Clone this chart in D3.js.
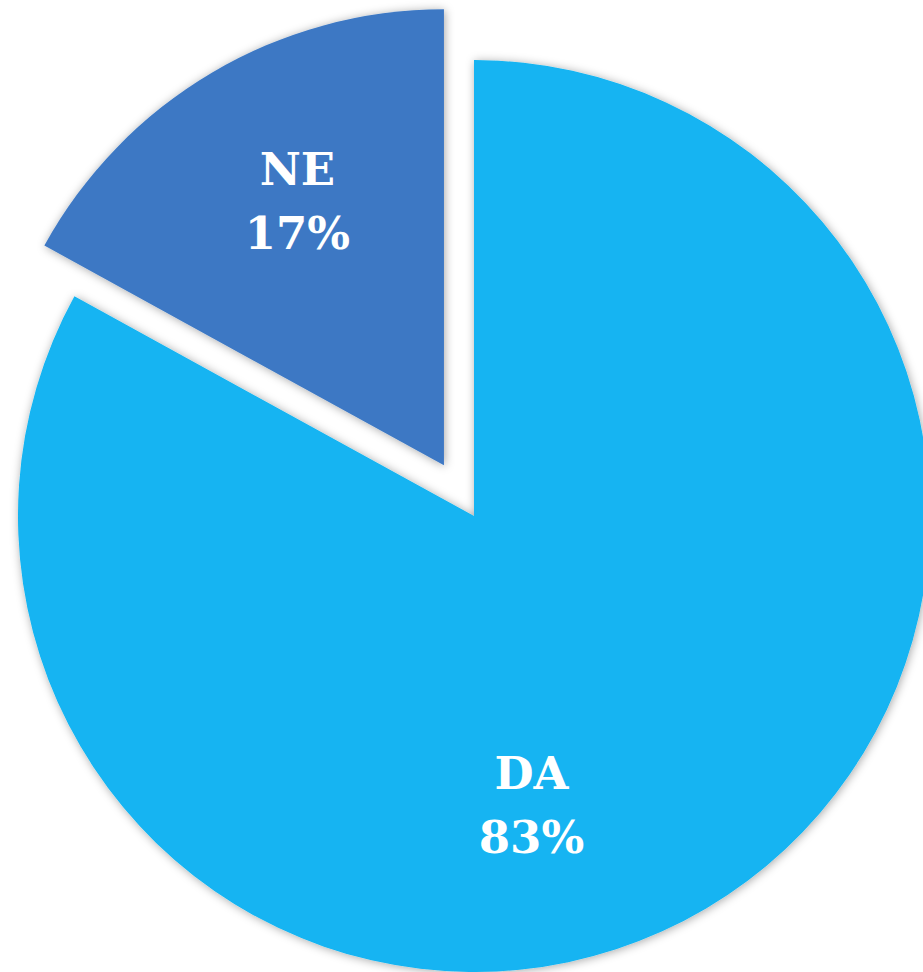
<!DOCTYPE html>
<html>
<head>
<meta charset="utf-8">
<script src="https://cdn.jsdelivr.net/npm/d3@7"></script>
<style>
html,body{margin:0;padding:0;background:#fff;overflow:hidden;}
svg{display:block;}
</style>
</head>
<body>
<svg id="chart" width="923" height="972"></svg>
<script>
const categories = ["DA", "NE"];
const values = [83, 17];
const colors = ["#12B4F2", "#3C78C4"];

const W = 923, H = 972;
const cx = 474, cy = 516, R = 456;
const explode = [0, 59];
const labelR = 0.655 * R;
const labelAngleShift = [19.5 * Math.PI / 180, 1.2 * Math.PI / 180];

const svg = d3.select("#chart");
const defs = svg.append("defs");
const f = defs.append("filter").attr("id", "sh").attr("x", "-20%").attr("y", "-20%").attr("width", "140%").attr("height", "140%");
f.append("feDropShadow").attr("dx", 1).attr("dy", 1).attr("stdDeviation", 5)
  .attr("flood-color", "#000").attr("flood-opacity", 0.35);

const data = categories.map((c, i) => ({ cat: c, value: values[i], color: colors[i], i }));
const pie = d3.pie().value(d => d.value).sort(null).startAngle(0);
const arcs = pie(data);
const arc = d3.arc().innerRadius(0).outerRadius(R);

const g = svg.append("g").attr("transform", `translate(${cx},${cy})`);

const slices = g.selectAll("g.slice").data(arcs).join("g").attr("class", "slice")
  .attr("transform", d => {
    const a = (d.startAngle + d.endAngle) / 2;
    const e = explode[d.data.i];
    return `translate(${e * Math.sin(a)},${-e * Math.cos(a)})`;
  });

slices.append("path")
  .attr("d", arc)
  .attr("fill", d => d.data.color)
  .attr("filter", "url(#sh)");

slices.each(function(d) {
  const a = (d.startAngle + d.endAngle) / 2 + labelAngleShift[d.data.i];
  const x = labelR * Math.sin(a), y = -labelR * Math.cos(a);
  const t = d3.select(this).append("text")
    .attr("x", x).attr("y", y)
    .attr("text-anchor", "middle")
    .attr("fill", "#fff")
    .attr("font-family", "'DejaVu Serif', serif")
    .attr("font-weight", "bold")
    .attr("font-size", 45);
  t.append("tspan").attr("x", x).attr("dy", "-0.45em").text(d.data.cat);
  t.append("tspan").attr("x", x).attr("dy", "1.42em").text(d.data.value + "%");
});
</script>
</body>
</html>
